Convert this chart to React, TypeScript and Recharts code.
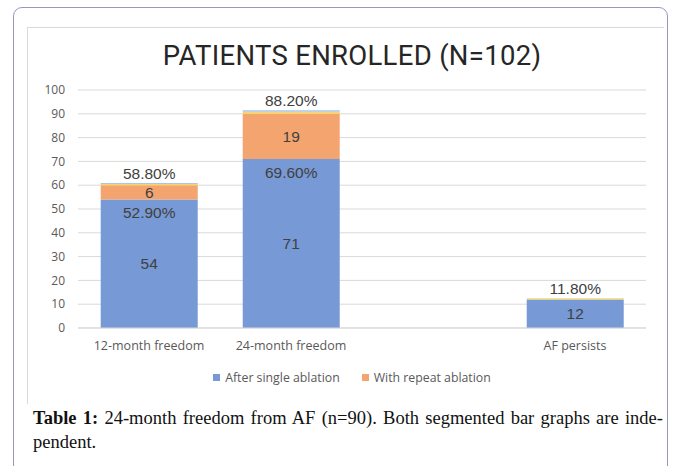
import React from 'react';
import { BarChart, Bar, XAxis, YAxis, CartesianGrid, LabelList } from 'recharts';

const categories = ['12-month freedom', '24-month freedom', '', 'AF persists'];
const singleAblation = [54, 71, null, 12];
const repeatAblation = [6, 19, null, 0];
const sliverYellow = [0.5, 0.9, null, 0.5];
const sliverBlue = [0.4, 0.6, null, 0];
const singlePct = ['52.90%', '69.60%', '', ''];
const totalPct = ['58.80%', '88.20%', '', '11.80%'];
const yTicks = [0, 10, 20, 30, 40, 50, 60, 70, 80, 90, 100];

const data = categories.map((c, i) => ({
  name: c,
  single: singleAblation[i],
  repeat: repeatAblation[i],
  yellow: sliverYellow[i],
  lblue: sliverBlue[i],
  singlePct: singlePct[i],
  pctOnYellow: sliverBlue[i] ? '' : totalPct[i],
  pctOnBlue: sliverBlue[i] ? totalPct[i] : '',
  repeatLabel: repeatAblation[i] ? repeatAblation[i] : '',
}));

const BLUE = '#7799d5';
const ORANGE = '#f4a46f';
const LABEL_FONT = 'Liberation Sans, Arial, sans-serif';
const AXIS_FONT = 'Open Sans, sans-serif';
const labelStyle = { fill: '#404040', fontSize: 15.5, fontFamily: LABEL_FONT };

export default function App() {
  return (
    <div style={{ position: 'absolute', left: 0, top: 0, width: 681, height: 466, background: '#fff', overflow: 'hidden' }}>
      <div style={{ position: 'absolute', left: 13, top: 7, width: 655, height: 480, border: '1.5px solid #9996bf', borderRadius: 9, boxSizing: 'border-box' }} />
      <div style={{ position: 'absolute', left: 27, top: 27, width: 636, height: 376, borderLeft: '1px solid #d9d9d9', borderTop: '1px solid #d9d9d9' }} />
      <div style={{ position: 'absolute', left: 0, width: 704, top: 39, textAlign: 'center', fontFamily: 'Roboto, sans-serif', fontSize: 27.5, color: '#262626', letterSpacing: 0.3 }}>
        PATIENTS ENROLLED (N=102)
      </div>
      <div style={{ position: 'absolute', left: 0, top: 0 }}>
        <BarChart width={681} height={466} data={data} margin={{ top: 90, right: 35, bottom: 108, left: 20 }} barCategoryGap="16%">
          <CartesianGrid vertical={false} stroke="#d9d9d9" />
          <XAxis dataKey="name" height={30} axisLine={{ stroke: '#d9d9d9' }} tickLine={false} tickSize={0} tickMargin={13}
            tick={{ fill: '#595959', fontSize: 12.5, fontFamily: AXIS_FONT }} interval={0} />
          <YAxis width={58} domain={[0, 100]} ticks={yTicks} axisLine={false} tickLine={false} tickSize={0} tickMargin={13}
            tick={{ fill: '#595959', fontSize: 12, fontFamily: AXIS_FONT }} />
          <Bar dataKey="single" stackId="a" fill={BLUE} isAnimationActive={false}>
            <LabelList dataKey="single" position="center" style={labelStyle} />
            <LabelList dataKey="singlePct" position="insideTop" offset={8} style={labelStyle} />
          </Bar>
          <Bar dataKey="repeat" stackId="a" fill={ORANGE} isAnimationActive={false}>
            <LabelList dataKey="repeatLabel" position="center" style={labelStyle} />
          </Bar>
          <Bar dataKey="yellow" stackId="a" fill="#fad46a" isAnimationActive={false}>
            <LabelList dataKey="pctOnYellow" position="top" offset={4} style={labelStyle} />
          </Bar>
          <Bar dataKey="lblue" stackId="a" fill="#a7c6e8" isAnimationActive={false}>
            <LabelList dataKey="pctOnBlue" position="top" offset={4} style={labelStyle} />
          </Bar>
        </BarChart>
      </div>
      <div style={{ position: 'absolute', left: 0, top: 369, width: 704, display: 'flex', justifyContent: 'center', fontFamily: AXIS_FONT, fontSize: 12.3, color: '#595959' }}>
        <div style={{ display: 'flex', alignItems: 'center', marginRight: 22 }}>
          <span style={{ width: 7, height: 7, background: BLUE, display: 'inline-block', marginRight: 5 }} />
          After single ablation
        </div>
        <div style={{ display: 'flex', alignItems: 'center' }}>
          <span style={{ width: 7, height: 7, background: ORANGE, display: 'inline-block', marginRight: 5 }} />
          With repeat ablation
        </div>
      </div>
      <div style={{ position: 'absolute', left: 33, top: 406, width: 630, fontFamily: 'Liberation Serif, Times New Roman, serif', fontSize: 18.5, color: '#111', lineHeight: '24px' }}>
        <div style={{ textAlign: 'justify', textAlignLast: 'justify', whiteSpace: 'nowrap' }}><b>Table 1:</b> 24-month freedom from AF (n=90). Both segmented bar graphs are inde-</div>
        <div>pendent.</div>
      </div>
    </div>
  );
}
